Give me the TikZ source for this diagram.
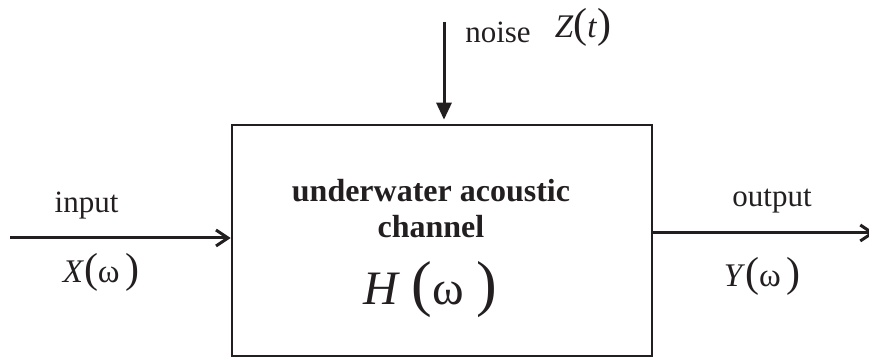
\documentclass[tikz,border=0pt]{standalone}
\usepackage{fontspec}
\setmainfont{Liberation Serif}
\usetikzlibrary{arrows.meta,positioning,calc}
\definecolor{ink}{HTML}{231F20}
\newcommand{\bp}[2][21]{{\fontsize{#1}{#1}\selectfont#2}}
\tikzset{
  chan/.style={draw=ink, line width=1.3pt, minimum width=210pt, minimum height=115.5pt, inner sep=0pt},
  chantext/.style={text=ink, font=\bfseries\fontsize{16}{18}\selectfont, align=center, inner sep=0pt},
  lbl/.style={text=ink, font=\fontsize{15.5}{18}\selectfont, inner sep=0pt, anchor=base},
  sig/.style={text=ink, font=\fontsize{16.5}{16.5}\selectfont, inner sep=0pt, anchor=base},
  arr/.style={draw=ink, line width=1.5pt, -{Straight Barb[length=6pt,width=8pt]}},
  noisearr/.style={draw=ink, line width=1.5pt, -{Triangle[length=8.5pt,width=7.5pt]}, shorten >=2pt}
}
\begin{document}
\begin{tikzpicture}[x=0.5pt,y=0.5pt]
\useasboundingbox (0,0) rectangle (869,358);

% channel block
\node[chan] (chan) at (442,117.5) {};
\node[chantext, anchor=base] (ctext) at (431,120) {underwater acoustic\\channel};
\node[sig, font=\fontsize{24}{24}\selectfont] (H) at (430,53) {\textit{H} \bp[31]{(}ω \bp[31]{)}};

% input side
\node[lbl] (inlbl) at (86.5,145) {input};
\node[sig] (X) at (101,75) {\textit{X}\bp{(}ω\,\bp{)}};
\coordinate (src) at (10,120);

% output side
\node[lbl] (outlbl) at (772,151) {output};
\node[sig] (Y) at (762,71) {\textit{Y}\bp{(}ω\,\bp{)}};
\coordinate (sink) at (875,125);

% noise
\node[lbl] (noiselbl) at (498,315) {noise};
\node[sig] (Z) at (583,320) {\textit{Z}\bp{(}\textit{t}\bp{)}};
\coordinate (ntop) at (444,336);

\draw[arr] (src) -- (src -| chan.west);
\draw[arr] (chan.east |- sink) -- (sink);
\draw[noisearr] (ntop) -- (ntop |- chan.north);
\end{tikzpicture}
\end{document}
